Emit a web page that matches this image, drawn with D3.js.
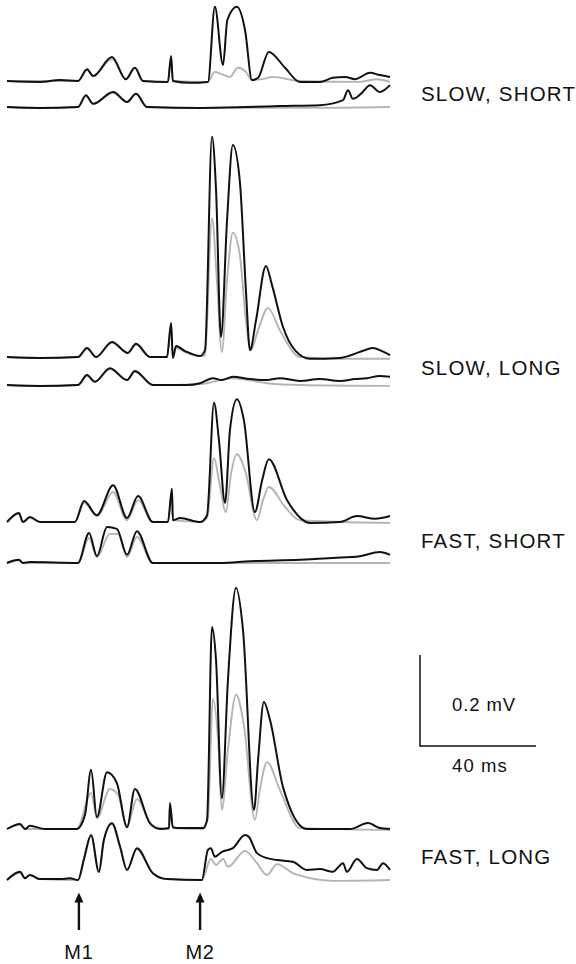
<!DOCTYPE html>
<html>
<head>
<meta charset="utf-8">
<script src="https://cdn.jsdelivr.net/npm/d3@7"></script>
<style>
  body { margin: 0; background: #fff; }
  svg text { font-family: "Liberation Sans", Arial, Helvetica, sans-serif; fill: #111; }
</style>
</head>
<body>
<div class="traces"></div>
<script>
'use strict';
// [time ms, amplitude mV]
var slowShortTopBlack = [[0,0],[11.4,-0.002],[18.3,0.002],[24.5,0],[27.6,0.026],[29.7,0.011],[36.2,0.053],[41,0.004],[44.1,0.029],[46.9,0],[55.5,-0.002],[56.6,0.055],[57.2,0],[63.1,-0.004],[69.3,-0.002],[71.7,0.163],[74.5,0.035],[76,0.134],[79.3,0.163],[82.1,0.112],[84.5,0.002],[86.6,0.007],[90.3,0.064],[95.9,0.029],[101,-0.002],[107.9,-0.002],[112.4,0.007],[116.6,0.009],[120,0.004],[125.2,0.018],[128.6,0.013],[132.1,0.009]];
var slowShortTopGray = [[0,0],[24.5,0],[27.6,0.024],[29.7,0.011],[36.2,0.048],[41,0.004],[44.1,0.029],[46.9,0],[55.5,-0.002],[56.6,0.053],[57.2,0],[69.3,-0.002],[71.7,0.02],[74.1,0.015],[76.9,0.009],[79.7,0.029],[82.4,0.02],[84.5,0.002],[88,0.004],[91.7,0.009],[101,0],[121.7,-0.002],[127.6,0.004],[132.1,-0.002]];
var slowShortBotBlack = [[0,0],[11.4,-0.002],[24.5,0],[27.2,0.026],[29.7,0.007],[36.6,0.033],[41.4,0.011],[44.5,0.029],[48.3,0],[66.6,-0.002],[82.8,0],[94.1,0.002],[107.9,0.004],[115.9,0.015],[117.6,0.037],[119.3,0.018],[122.4,0.031],[125.2,0.048],[128.6,0.033],[132.1,0.048]];
var slowShortBotGray = [[0,0],[11.4,-0.002],[24.5,0],[27.2,0.024],[29.7,0.007],[36.6,0.031],[41.4,0.011],[44.5,0.029],[48.3,0],[66.6,-0.002],[101,-0.002],[132.1,0]];

var slowLongTopBlack = [[0,0],[11.4,-0.002],[24.5,0],[27.6,0.02],[30.7,0],[36.2,0.033],[41.7,0.009],[44.5,0.029],[49.3,0],[55.2,0],[56.6,0.075],[57.2,-0.002],[58.3,0.024],[61.4,0.013],[66.6,0.002],[68.3,0.015],[70.7,0.484],[72.1,0.367],[73.8,0.044],[75.9,0.301],[77.9,0.466],[80.3,0.387],[82.4,0.147],[83.8,0.015],[85.9,0.081],[89.3,0.2],[91.4,0.158],[95.2,0.066],[99.3,0.015],[104.5,-0.004],[114.8,-0.002],[123.4,0.015],[126.2,0.02],[129.3,0.013],[132.1,0.004]];
var slowLongTopGray = [[0,0],[11.4,-0.002],[24.5,0],[27.6,0.018],[30.7,0],[36.2,0.031],[41.7,0.009],[44.5,0.027],[49.3,0],[55.2,0],[56.6,0.07],[57.2,-0.002],[58.3,0.02],[61.4,0.011],[66.6,0.002],[68.3,0.004],[70.7,0.305],[72.4,0.169],[74.1,0.011],[75.9,0.169],[77.9,0.273],[80.3,0.224],[82.4,0.081],[84.1,0.015],[86.6,0.059],[90,0.108],[94.1,0.059],[101,0],[114.8,-0.004],[132.1,-0.004]];
var slowLongBotBlack = [[0,0],[11.4,-0.002],[24.5,0],[27.6,0.022],[30.3,0.007],[35.5,0.037],[41.4,0.011],[44.1,0.031],[50.3,0],[62.1,0],[66.6,0.004],[71,0.015],[74.1,0.011],[77.9,0.018],[83.8,0.013],[89.7,0.011],[94.1,0.015],[101,0.009],[107.9,0.013],[114.8,0.009],[120,0.013],[124.1,0.015],[128.6,0.02],[132.1,0.018]];
var slowLongBotGray = [[0,0],[11.4,-0.002],[24.5,0],[27.6,0.02],[30.3,0.007],[35.5,0.035],[41.4,0.011],[44.1,0.029],[50.3,0],[66.6,0.002],[77.9,0.015],[89.7,0.004],[101,0],[132.1,-0.002]];

var fastShortTopBlack = [[0,0],[4.1,0.02],[5.5,0],[7.9,0.011],[11.4,0],[23.4,0],[26.6,0.046],[31,0.015],[36.6,0.081],[41.4,0.009],[45.2,0.057],[50.3,0],[55.5,0],[56.9,0.073],[57.2,0.004],[59.7,0.009],[66.6,0],[69,0.015],[71.4,0.262],[73.1,0.18],[75.2,0.042],[76.9,0.202],[79.3,0.27],[81.7,0.224],[85.5,0.022],[88,0.092],[90.3,0.138],[96.6,0.048],[104.5,-0.002],[114.8,0],[120.7,0.013],[127,0.007],[132.1,0.013]];
var fastShortTopGray = [[0,0],[4.1,0.018],[5.5,0],[7.9,0.009],[11.4,0],[23.4,0],[26.6,0.042],[31,0.013],[36.6,0.066],[41.4,0.004],[45.2,0.048],[50.3,0],[55.5,0],[56.9,0.066],[57.2,0.004],[66.6,0],[69,0.009],[71.4,0.141],[73.1,0.092],[75.5,0.022],[77.2,0.103],[79.3,0.149],[82.1,0.114],[86.2,0.004],[88.3,0.048],[90.3,0.077],[95.9,0.033],[101,0.004],[132.1,-0.002]];
var fastShortBotBlack = [[0,0],[4.1,0.007],[5.5,0],[7.9,0.002],[24.5,0],[28.3,0.066],[31,0.015],[34.5,0.079],[37.9,0.075],[41.4,0.018],[44.8,0.07],[50.3,0],[73.4,0],[83.8,0.004],[101,0.007],[112.4,0.011],[121.7,0.015],[128.6,0.024],[132.1,0.018]];
var fastShortBotGray = [[0,0],[4.1,0.006],[5.5,0],[24.5,0],[28.3,0.055],[31,0.013],[35.5,0.064],[38.3,0.064],[41.4,0.013],[44.8,0.057],[50.3,0],[132.1,0]];

var fastLongTopBlack = [[0,0],[4.5,0.011],[6.2,0],[7.9,0.007],[13.1,0],[24.1,0],[26.9,0.031],[29,0.13],[31,0.026],[34.5,0.125],[37.9,0.101],[41.4,0.004],[44.1,0.088],[49.3,0.013],[52.8,0],[55.9,0.002],[56.2,0.057],[57.2,0.004],[59.7,0.002],[67.6,0.002],[69,0.02],[70.7,0.444],[72.1,0.371],[74.1,0.068],[76.2,0.327],[79,0.53],[81.4,0.437],[85.2,0.042],[86.6,0.152],[88.6,0.279],[90.7,0.24],[95.2,0.092],[103.4,0],[118.3,0],[124.5,0.013],[128.6,0.002],[132.1,0]];
var fastLongTopGray = [[0,0],[4.5,0.009],[6.2,0],[24.1,0],[29,0.079],[31,0.024],[35.5,0.088],[38.3,0.075],[41.4,0.007],[44.8,0.066],[50,0.007],[55.9,0],[56.2,0.051],[57.2,0.002],[67.6,0],[69.3,0.024],[71,0.286],[72.8,0.196],[74.1,0.042],[76.2,0.174],[79,0.295],[81.7,0.229],[85.5,0.02],[87.2,0.086],[89.7,0.147],[94.1,0.086],[101,0.002],[132.1,-0.002]];
var fastLongBotBlack = [[0,0],[4.5,0.018],[6.2,0.004],[7.9,0.011],[11.4,0.002],[18.3,0.002],[21.7,0.004],[24.5,0],[26.6,0.048],[29,0.099],[31.7,0.018],[33.4,0.088],[36.2,0.125],[39,0.073],[41.4,0.022],[44.8,0.07],[50.3,0.015],[55.2,0.002],[67.2,0],[69.3,0.066],[70.3,0.07],[71.7,0.051],[74.1,0.062],[77.9,0.07],[82.1,0.099],[83.4,0.095],[86.2,0.059],[89.7,0.048],[93.1,0.044],[98.6,0.04],[103.4,0.022],[107.9,0.024],[112.4,0.018],[115.9,0.037],[117.2,0.018],[120.7,0.046],[124.1,0.026],[127.6,0.022],[129.7,0.037],[132.1,0.022]];
var fastLongBotGray = [[0,0],[4.5,0.016],[6.2,0.004],[7.9,0.011],[11.4,0.002],[24.5,0],[26.6,0.046],[29,0.097],[31.7,0.018],[33.4,0.086],[36.2,0.123],[39,0.073],[41.4,0.022],[44.8,0.068],[50.3,0.015],[55.2,0.002],[67.2,0],[70.3,0.046],[72.1,0.033],[74.5,0.046],[76.2,0.029],[82.1,0.064],[86.2,0.037],[89.7,0.011],[93.1,0.035],[98.6,0.015],[104.5,0.004],[112.4,-0.002],[132.1,0]];

var conditions = ['SLOW, SHORT', 'SLOW, LONG', 'FAST, SHORT', 'FAST, LONG'];
var markers = [{name: 'M1', t: 24.8}, {name: 'M2', t: 66.6}];
var scaleBarMs = 40;
var scaleBarMv = 0.2;

var traces = [
  {gray: slowShortTopGray, black: slowShortTopBlack},
  {gray: slowShortBotGray, black: slowShortBotBlack},
  {gray: slowLongTopGray, black: slowLongTopBlack},
  {gray: slowLongBotGray, black: slowLongBotBlack},
  {gray: fastShortTopGray, black: fastShortTopBlack},
  {gray: fastShortBotGray, black: fastShortBotBlack},
  {gray: fastLongTopGray, black: fastLongTopBlack},
  {gray: fastLongBotGray, black: fastLongBotBlack}
];

// layout
var w = 576;
var h = 964;
var baselines = [81, 107, 357, 385, 522, 563, 829, 880];
var labelY = [101, 375, 548, 864];
var pxPerMv = 455;

var x = d3.scaleLinear().domain([0, 132.1]).range([7, 390]);
var amp = d3.scaleLinear().domain([0, 1]).range([0, -pxPerMv]);

var svg = d3.select('.traces')
  .append('svg')
  .attr('width', w)
  .attr('height', h)
  .attr('viewBox', '0 0 ' + w + ' ' + h);

var makeLine = function(base) {
  return d3.line()
    .x(function(d) { return x(d[0]); })
    .y(function(d) { return base + amp(d[1]); })
    .curve(d3.curveMonotoneX);
};

// gray first, black on top
traces.forEach(function(tr, i) {
  var line = makeLine(baselines[i]);
  var g = svg.append('g').attr('class', 'trace');
  g.append('path')
    .attr('d', line(tr.gray))
    .attr('fill', 'none')
    .attr('stroke', '#b4b4b4')
    .attr('stroke-width', 1.9)
    .attr('stroke-linejoin', 'round');
  g.append('path')
    .attr('d', line(tr.black))
    .attr('fill', 'none')
    .attr('stroke', '#111')
    .attr('stroke-width', 2)
    .attr('stroke-linejoin', 'round');
});

// condition labels
svg.append('g')
  .selectAll('text')
  .data(conditions)
  .enter()
  .append('text')
  .attr('x', 421)
  .attr('y', function(d, i) { return labelY[i]; })
  .attr('font-size', 20.5)
  .attr('letter-spacing', 1.2)
  .text(function(d) { return d; });

// scale bar
var barX = 420;
var barY = 746;
var barLen = x(scaleBarMs) - x(0);
var barH = -amp(scaleBarMv);
svg.append('path')
  .attr('d', 'M' + barX + ',' + (barY - barH) + 'V' + barY + 'H' + (barX + barLen))
  .attr('fill', 'none')
  .attr('stroke', '#111')
  .attr('stroke-width', 1.5);
svg.append('text')
  .attr('x', 452).attr('y', 711)
  .attr('font-size', 18.5).attr('letter-spacing', 0.9)
  .text(scaleBarMv + ' mV');
svg.append('text')
  .attr('x', 452).attr('y', 772)
  .attr('font-size', 18.5).attr('letter-spacing', 1.1)
  .text(scaleBarMs + ' ms');

// stimulus arrows
var arrows = svg.append('g')
  .selectAll('g')
  .data(markers)
  .enter()
  .append('g')
  .attr('transform', function(d) { return 'translate(' + x(d.t) + ',0)'; });
arrows.append('line')
  .attr('y1', 930).attr('y2', 898)
  .attr('stroke', '#111')
  .attr('stroke-width', 2.4);
arrows.append('path')
  .attr('d', 'M0,892.5L-4.5,902.5L4.5,902.5Z')
  .attr('fill', '#111');
arrows.append('text')
  .attr('y', 959)
  .attr('text-anchor', 'middle')
  .attr('font-size', 20)
  .attr('letter-spacing', 0.8)
  .text(function(d) { return d.name; });
</script>
</body>
</html>
